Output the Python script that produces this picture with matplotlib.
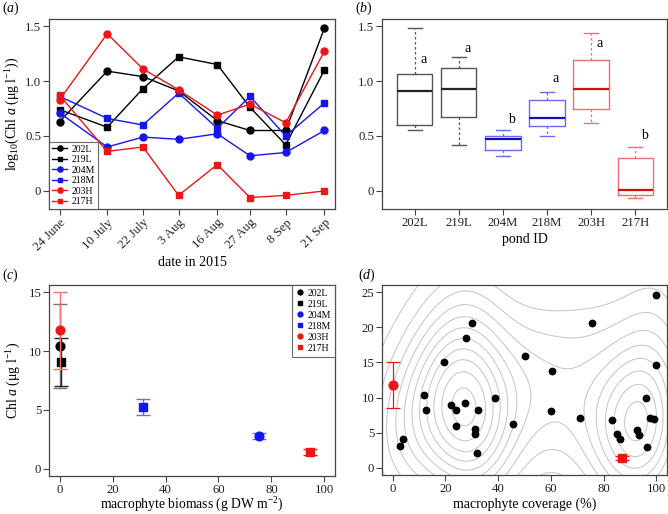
import numpy as np
import matplotlib
matplotlib.use('Agg')
import matplotlib.pyplot as plt
from matplotlib.lines import Line2D

plt.rcParams['font.family'] = 'Liberation Serif'
plt.rcParams['mathtext.fontset'] = 'custom'
plt.rcParams['mathtext.rm'] = 'Liberation Serif'
plt.rcParams['mathtext.it'] = 'Liberation Serif:italic'
plt.rcParams['axes.edgecolor'] = '#444444'
plt.rcParams['xtick.color'] = '#444444'
plt.rcParams['ytick.color'] = '#444444'
plt.rcParams['xtick.labelcolor'] = '#222222'
plt.rcParams['ytick.labelcolor'] = '#222222'

# ---- data ----
ponds = ['202L', '219L', '204M', '218M', '203H', '217H']
pond_colors = ['black', 'black', '#1515f0', '#1515f0', '#ee1515', '#ee1515']
pond_markers = ['o', 's', 'o', 's', 'o', 's']

dates = ['2015-06-24', '2015-07-10', '2015-07-22', '2015-08-03',
         '2015-08-16', '2015-08-27', '2015-09-08', '2015-09-21']
date_labels = ['24 June', '10 July', '22 July', '3 Aug', '16 Aug', '27 Aug', '8 Sep', '21 Sep']

log_chl = {
    '202L': [0.63, 1.09, 1.04, 0.91, 0.64, 0.55, 0.55, 1.48],
    '219L': [0.74, 0.58, 0.93, 1.22, 1.15, 0.76, 0.42, 1.10],
    '204M': [0.71, 0.40, 0.49, 0.47, 0.52, 0.32, 0.35, 0.55],
    '218M': [0.86, 0.66, 0.60, 0.89, 0.57, 0.86, 0.50, 0.80],
    '203H': [0.83, 1.43, 1.11, 0.92, 0.69, 0.79, 0.62, 1.27],
    '217H': [0.87, 0.36, 0.40, -0.04, 0.24, -0.06, -0.04, 0.00],
}

# box statistics (whislo, q1, med, q3, whishi)
box_lo = [0.55, 0.42, 0.32, 0.50, 0.62, -0.06]
box_q1 = [0.60, 0.67, 0.37, 0.59, 0.745, -0.04]
box_med = [0.91, 0.93, 0.47, 0.66, 0.93, 0.005]
box_q3 = [1.06, 1.12, 0.50, 0.83, 1.19, 0.30]
box_hi = [1.48, 1.22, 0.55, 0.90, 1.44, 0.40]
sig_letters = ['a', 'a', 'b', 'a', 'a', 'b']
sig_y = [1.20, 1.30, 0.65, 1.02, 1.34, 0.50]
box_edge = ['#555555', '#555555', '#6a6af0', '#6a6af0', '#f07070', '#f07070']
box_mid = ['#222222', '#222222', '#1010c0', '#1010c0', '#cc1010', '#cc1010']

biomass = [0.2, 0.4, 75.2, 31.5, 0.0, 94.5]
chl_mean = [10.42, 9.08, 2.79, 5.26, 11.75, 1.43]
chl_err = [3.55, 2.04, 0.23, 0.70, 3.25, 0.25]
err_colors = ['#777777', '#222222', '#6a6af0', '#6a6af0', '#f07070', '#ee1515']

cov_x = [100, 75.6, 30.2, 27.7, 19.4, 50.1, 60.4, 100, 11.9, 38.8, 96.2, 27.3, 22.2,
         24.2, 32.3, 12.6, 60.1, 71.2, 97.7, 99.2, 83.1, 45.6, 24.2, 31.1, 31.3,
         92.7, 93.4, 85.1, 86.1, 3.8, 2.8, 96.5, 32.1]
cov_y = [24.6, 20.6, 20.6, 18.5, 15.1, 15.9, 13.8, 14.6, 10.3, 9.9, 9.9, 9.3, 8.9,
         8.2, 8.3, 8.3, 8.1, 7.05, 7.1, 6.95, 6.76, 6.29, 5.95, 5.48, 4.81,
         5.38, 4.62, 4.76, 4.05, 4.05, 3.19, 3.0, 2.19]
cov_203H, chl_203H, err_203H = 0.0, 11.75, 3.25
cov_217H, chl_217H, err_217H = 87.0, 1.43, 0.25

W, H = 668, 514
fig = plt.figure(figsize=(W / 100, H / 100), dpi=100)

def add_ax(l, r, t, b):
    return fig.add_axes([l / W, 1 - b / H, (r - l) / W, (b - t) / H])

def style(ax):
    ax.tick_params(direction='out', length=4, width=0.8, labelsize=9.2, pad=1.5)
    for s in ax.spines.values():
        s.set_linewidth(0.9)

ax_a = add_ax(49, 335, 19, 209)
ax_b = add_ax(382, 667, 19, 209)
ax_c = add_ax(49, 335, 285, 476)
ax_d = add_ax(382, 667, 285, 475)
for ax in (ax_a, ax_b, ax_c, ax_d):
    style(ax)

# ---- (a) ----
d0 = np.datetime64(dates[0])
days = [(np.datetime64(d) - d0).astype(int) for d in dates]
for p, c, m in zip(ponds, pond_colors, pond_markers):
    ax_a.plot(days, log_chl[p], color=c, marker=m, ms=5 if m == 'o' else 4.6,
              lw=1.0, label=p)
ax_a.set_xlim(-3.56, 92.56)
ax_a.set_ylim(-0.164, 1.564)
ax_a.set_xticks(days)
ax_a.set_xticklabels(date_labels, rotation=45, ha='right', rotation_mode='anchor')
ax_a.set_yticks([0, 0.5, 1.0, 1.5])
ax_a.set_yticklabels(['0', '0.5', '1.0', '1.5'])
ax_a.set_xlabel('date in 2015', fontsize=10, labelpad=2)
ax_a.set_ylabel(r'log$_{10}$(Chl $a$ (μg l$^{-1}$))', fontsize=10, labelpad=2)
leg = ax_a.legend(loc='lower left', fontsize=7, handlelength=1.6, handletextpad=0.4,
                  borderpad=0.3, labelspacing=0.15, borderaxespad=0, fancybox=False,
                  markerscale=0.75)
leg.get_frame().set_edgecolor('#444444')
leg.get_frame().set_linewidth(0.8)
fig.text(2 / W, 1 - 8 / H, r'($a$)', fontsize=10, va='center')

# ---- (b) ----
stats = []
for i, p in enumerate(ponds):
    stats.append(dict(whislo=box_lo[i], q1=box_q1[i], med=box_med[i],
                      q3=box_q3[i], whishi=box_hi[i], label=p))
pos = np.arange(1, len(ponds) + 1)
for i in range(len(ponds)):
    ax_b.bxp([stats[i]], positions=[pos[i]], widths=0.8, showfliers=False,
             capwidths=0.32,
             boxprops=dict(color=box_edge[i], lw=1.0),
             whiskerprops=dict(color=box_edge[i], lw=0.9, ls=(0, (2, 2))),
             capprops=dict(color=box_edge[i], lw=1.0),
             medianprops=dict(color=box_mid[i], lw=1.6))
    ax_b.text(pos[i] + 0.2, sig_y[i], sig_letters[i], fontsize=10, ha='center', va='center')
ax_b.set_xlim(0.26, 6.72)
ax_b.set_ylim(-0.164, 1.564)
ax_b.set_xticks(pos)
ax_b.set_xticklabels(ponds)
ax_b.set_yticks([0, 0.5, 1.0, 1.5])
ax_b.set_yticklabels(['0', '0.5', '1.0', '1.5'])
ax_b.set_xlabel('pond ID', fontsize=10, labelpad=3)
fig.text(355 / W, 1 - 8 / H, r'($b$)', fontsize=10, va='center')

# ---- (c) ----
handles = []
for i, p in enumerate(ponds):
    ax_c.errorbar(biomass[i], chl_mean[i], yerr=chl_err[i], fmt='none',
                  ecolor=err_colors[i], elinewidth=1.0, capsize=5, capthick=1.0)
    ax_c.plot(biomass[i], chl_mean[i], marker=pond_markers[i], color=pond_colors[i],
              ms=6.3 if pond_markers[i] == 'o' else 5.8, ls='none')
    handles.append(Line2D([], [], marker=pond_markers[i], color=pond_colors[i],
                          ls='none', ms=3.5 if pond_markers[i] == 'o' else 3, label=p))
ax_c.set_xlim(-4, 104)
ax_c.set_ylim(-0.6, 15.6)
ax_c.set_xticks([0, 20, 40, 60, 80, 100])
ax_c.set_yticks([0, 5, 10, 15])
ax_c.set_xlabel(r'macrophyte biomass (g DW m$^{-2}$)', fontsize=9.8, labelpad=0)
ax_c.set_ylabel(r'Chl $a$ (μg l$^{-1}$)', fontsize=10, labelpad=4)
leg = ax_c.legend(handles=handles, loc='upper right', fontsize=7, handlelength=0.8,
                  handletextpad=0.4, borderpad=0.4, labelspacing=0.2, borderaxespad=0,
                  fancybox=False)
leg.get_frame().set_edgecolor('#444444')
leg.get_frame().set_linewidth(0.8)
fig.text(2 / W, 1 - 275 / H, r'($c$)', fontsize=10, va='center')

# ---- (d) ----
gx = np.linspace(-4, 104, 220)
gy = np.linspace(-1, 26, 200)
GX, GY = np.meshgrid(gx, gy)
px = np.array(cov_x)
py = np.array(cov_y)
hx, hy = 11.0, 8.0
dens = np.zeros_like(GX)
for xi, yi in zip(px, py):
    dens += np.exp(-0.5 * ((GX - xi) / hx) ** 2 - 0.5 * ((GY - yi) / hy) ** 2)
ax_d.contour(GX, GY, dens, levels=np.linspace(dens.max() * 0.1, dens.max() * 0.96, 11),
             colors='#c4c4c4', linewidths=0.7)
ax_d.plot(px, py, 'o', color='black', ms=4.6)
ax_d.errorbar(cov_203H, chl_203H, yerr=err_203H, fmt='o', color='#ee1515', ms=6.3,
              ecolor='#ee1515', elinewidth=0.9, capsize=5, capthick=0.9)
ax_d.errorbar(cov_217H, chl_217H, yerr=err_217H, fmt='s', color='#ee1515', ms=5.8,
              ecolor='#ee1515', elinewidth=0.9, capsize=5, capthick=0.9)
ax_d.set_xlim(-4, 104)
ax_d.set_ylim(-1, 26)
ax_d.set_xticks([0, 20, 40, 60, 80, 100])
ax_d.set_yticks([0, 5, 10, 15, 20, 25])
ax_d.set_xlabel('macrophyte coverage (%)', fontsize=10, labelpad=2)
fig.text(358 / W, 1 - 275 / H, r'($d$)', fontsize=10, va='center')

fig.savefig('out.png', dpi=100)
